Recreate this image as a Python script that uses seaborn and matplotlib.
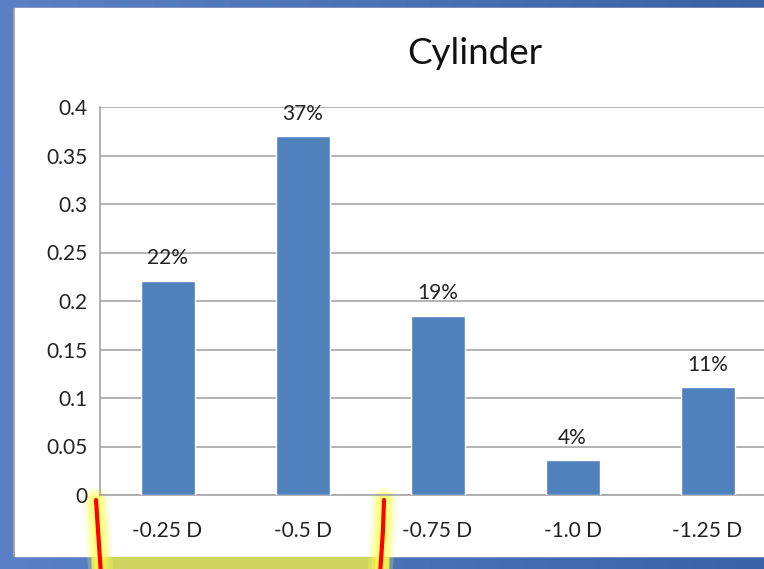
import numpy as np
import pandas as pd
import matplotlib
matplotlib.use("Agg")
import matplotlib.pyplot as plt
import matplotlib.patheffects as pe
from matplotlib.patches import Rectangle
import seaborn as sns

# chart data
CATEGORIES = ["-0.25 D", "-0.5 D", "-0.75 D", "-1.0 D", "-1.25 D"]
VALUES = [0.221, 0.370, 0.185, 0.036, 0.111]
BAR_LABELS = ["22%", "37%", "19%", "4%", "11%"]
Y_TICKS = [0, 0.05, 0.1, 0.15, 0.2, 0.25, 0.3, 0.35, 0.4]
Y_TICK_LABELS = ["0", "0.05", "0.1", "0.15", "0.2", "0.25", "0.3", "0.35", "0.4"]
TITLE = "Cylinder"

W, H = 764, 569
BAR_COLOR = "#4F81BD"
GRID_COLOR = "#A6A6A6"


def px(x, y):
    # pixel (from top-left) -> figure fraction
    return x / W, 1 - y / H


def draw_background(fig):
    bg = fig.add_axes([0, 0, 1, 1], zorder=-10)
    grad = np.linspace(0, 1, 256)[None, :]
    cmap = matplotlib.colors.LinearSegmentedColormap.from_list("bg", ["#5B80C5", "#3B62A7"])
    bg.imshow(grad, aspect="auto", cmap=cmap, extent=[0, 1, 0, 1])
    bg.set_xlim(0, 1)
    bg.set_ylim(0, 1)
    bg.axis("off")
    # white slide panel with faint shadow on the left
    x0, y1 = px(13, 8)
    _, y0 = px(0, 556)
    bg.add_patch(Rectangle((x0, y0), 1.1, y1 - y0, color="#9A9A9A", zorder=1))
    x0, _ = px(15, 0)
    bg.add_patch(Rectangle((x0, y0), 1.1, y1 - y0, color="white", zorder=2))
    return bg


def draw_bracket(bg):
    glow = [pe.Stroke(linewidth=18, foreground="#FFFF60", alpha=0.25),
            pe.Stroke(linewidth=13, foreground="#FFFF50", alpha=0.35),
            pe.Stroke(linewidth=8, foreground="#FFFF40", alpha=0.5),
            pe.Normal()]
    # yellow band at the bottom between the bracket arms
    bx0, by1 = px(92, 557)
    bx1, _ = px(388, 0)
    bg.add_patch(Rectangle((bx0, 0), bx1 - bx0, by1, color="#CFD45E", zorder=3))
    for xs, ys in [([96, 98, 101], [500, 530, 575]), ([384, 383, 380], [500, 530, 575])]:
        pts = [px(x, y) for x, y in zip(xs, ys)]
        bg.plot([p[0] for p in pts], [p[1] for p in pts], color="#FF0000", lw=3,
                solid_capstyle="round", zorder=5, path_effects=glow)


def main():
    sns.set_theme(style="white")
    plt.rcParams["font.family"] = ["Lato", "DejaVu Sans"]

    fig = plt.figure(figsize=(W / 100, H / 100), dpi=100)
    bg = draw_background(fig)
    draw_bracket(bg)

    left, top = px(100, 107)
    _, bottom = px(0, 495)
    ax = fig.add_axes([left, bottom, 675 / W, top - bottom], zorder=1)
    ax.patch.set_alpha(0)

    df = pd.DataFrame({"cat": CATEGORIES, "val": VALUES})
    sns.barplot(data=df, x="cat", y="val", color=BAR_COLOR, width=0.4, saturation=1, ax=ax, zorder=3)

    for i, (v, lab) in enumerate(zip(VALUES, BAR_LABELS)):
        ax.annotate(lab, (i, v), xytext=(0, 9), textcoords="offset points",
                    ha="center", va="bottom", fontsize=15, color="#222222")

    ax.set_ylim(0, 0.4)
    ax.set_xlim(-0.5, 4.5)
    ax.set_yticks(Y_TICKS)
    ax.set_yticklabels(Y_TICK_LABELS)
    ax.yaxis.grid(True, color=GRID_COLOR, lw=1.2, zorder=0)
    ax.set_axisbelow(True)
    ax.tick_params(axis="both", length=0, labelsize=15, colors="#222222")
    ax.tick_params(axis="x", pad=19)
    ax.tick_params(axis="y", pad=9)
    for s in ["top", "right"]:
        ax.spines[s].set_visible(False)
    for s in ["left", "bottom"]:
        ax.spines[s].set_color(GRID_COLOR)
        ax.spines[s].set_linewidth(1.2)
    ax.set_xlabel("")
    ax.set_ylabel("")

    tx, ty = px(475, 53)
    fig.text(tx, ty, TITLE, ha="center", va="center", fontsize=26.5, color="#111111")

    fig.savefig("out.png", dpi=100)
    plt.close(fig)


if __name__ == "__main__":
    main()
